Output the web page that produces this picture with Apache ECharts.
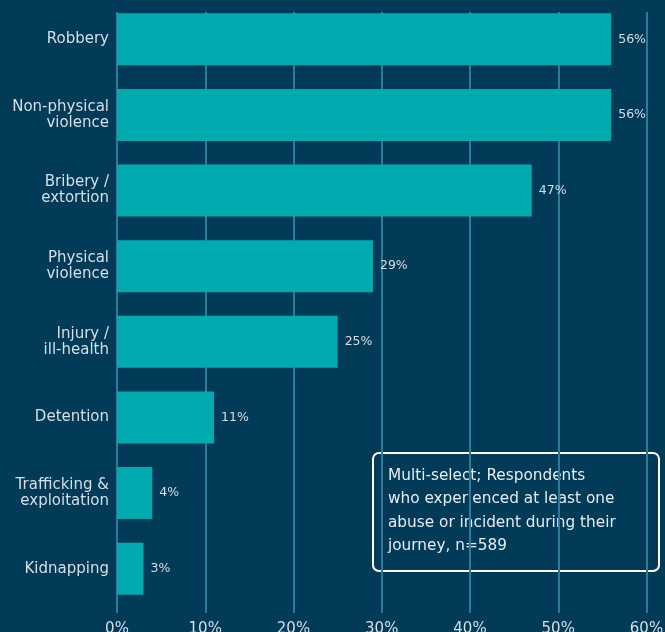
<!DOCTYPE html>
<html>
<head>
<meta charset="utf-8">
<script src="https://cdn.jsdelivr.net/npm/echarts@6/dist/echarts.min.js"></script>
<style>
  html, body { margin: 0; padding: 0; background: #023b58; }
  #chart { width: 665px; height: 632px; }
</style>
</head>
<body>
<div id="chart"></div>
<script>
// Abuses and incidents reported on the journey (share of respondents)
const categories = [
  'Robbery',
  'Non-physical\nviolence',
  'Bribery /\nextortion',
  'Physical\nviolence',
  'Injury /\nill-health',
  'Detention',
  'Trafficking &\nexploitation',
  'Kidnapping'
];
const shares = [56, 56, 47, 29, 25, 11, 4, 3];
const xTicks = [0, 10, 20, 30, 40, 50, 60];
const noteText = 'Multi-select; Respondents\nwho experienced at least one\nabuse or incident during their\njourney, n=589';

const BG = '#023b58';
const BAR = '#00abb0';
const TEXT = '#d6dfe5';
const GRIDLINE = '#2b7c9c';
const FONT = '"DejaVu Sans", "Open Sans", sans-serif';

const chart = echarts.init(document.getElementById('chart'));
chart.setOption({
  backgroundColor: BG,
  animation: false,
  grid: [
    // bar area
    { left: 117, right: 18.5, top: 1.5, height: 605, containLabel: false, outerBoundsMode: 'none' },
    // vertical guide lines, slightly longer than the bar area
    { left: 117, right: 18.5, top: 12, height: 601, containLabel: false, outerBoundsMode: 'none' }
  ],
  xAxis: [
    {
      gridIndex: 0, type: 'value', min: xTicks[0], max: xTicks[xTicks.length - 1], interval: 10,
      axisLine: { show: false }, axisTick: { show: false }, splitLine: { show: false },
      axisLabel: { color: TEXT, fontFamily: FONT, fontSize: 15, margin: 15, formatter: v => v + '%' }
    },
    {
      gridIndex: 1, type: 'value', min: xTicks[0], max: xTicks[xTicks.length - 1], interval: 10,
      axisLine: { show: false }, axisTick: { show: false }, axisLabel: { show: false },
      splitLine: { show: true, lineStyle: { color: GRIDLINE, width: 2 } }
    }
  ],
  yAxis: [
    {
      gridIndex: 0, type: 'category', data: categories, inverse: true,
      axisLine: { show: false }, axisTick: { show: false },
      axisLabel: { color: TEXT, fontFamily: FONT, fontSize: 15, lineHeight: 16, margin: 8, align: 'right' }
    },
    {
      gridIndex: 1, type: 'category', data: categories, show: false
    }
  ],
  series: [
    {
      type: 'bar', xAxisIndex: 0, yAxisIndex: 0,
      data: shares, barWidth: 52,
      itemStyle: { color: BAR },
      label: {
        show: true, position: 'right', distance: 7,
        color: TEXT, fontFamily: FONT, fontSize: 12.5,
        formatter: p => p.value + '%'
      },
      z: 3
    }
  ],
  graphic: [
    {
      type: 'group', left: 372, top: 452, z: 10,
      children: [
        {
          type: 'rect',
          shape: { x: 0, y: 0, width: 286, height: 118, r: 6 },
          style: { fill: BG, stroke: '#ffffff', lineWidth: 2 }
        },
        {
          type: 'text', x: 15, y: 11,
          style: { text: noteText, fill: '#e6ecef', font: '15.3px ' + FONT, lineHeight: 23.5 }
        }
      ]
    }
  ]
});
</script>
</body>
</html>
